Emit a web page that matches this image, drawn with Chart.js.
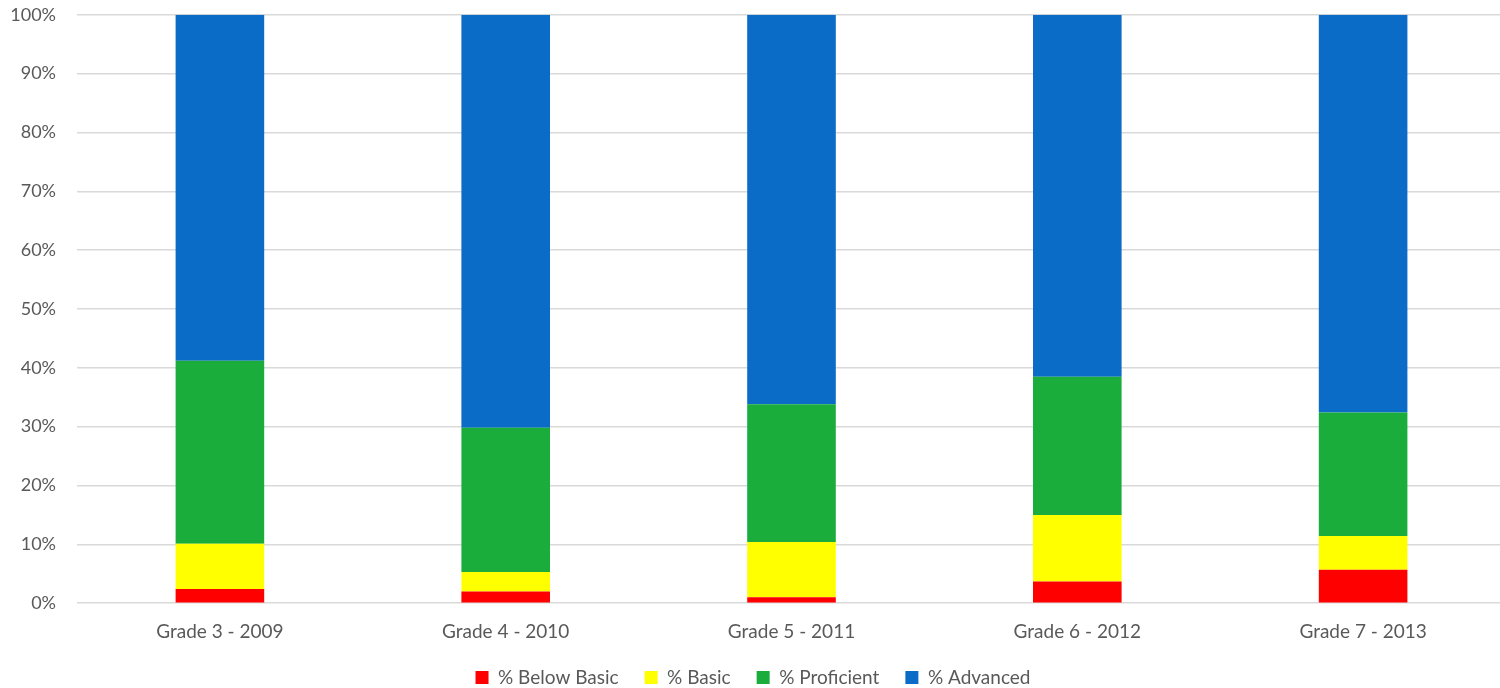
<!DOCTYPE html>
<html>
<head>
<meta charset="utf-8">
<script src="https://cdn.jsdelivr.net/npm/chart.js@4"></script>
<style>
  html, body { margin: 0; padding: 0; background: #fff; overflow: hidden; }
  #wrap { width: 1506px; height: 688px; }
</style>
</head>
<body>
<div id="wrap"><canvas id="myChart"></canvas></div>
<script>
// grades / years along the bottom
var grades = ['Grade 3 - 2009', 'Grade 4 - 2010', 'Grade 5 - 2011', 'Grade 6 - 2012', 'Grade 7 - 2013'];

// percent of students in each band
var belowBasic = [2.4, 2.0, 1.0, 3.7, 5.7];
var basic      = [7.7, 3.3, 9.4, 11.3, 5.7];
var proficient = [31.1, 24.5, 23.4, 23.5, 21.0];
var advanced   = [58.8, 70.2, 66.2, 61.5, 67.6];

var yTicks = [0, 10, 20, 30, 40, 50, 60, 70, 80, 90, 100];

var labelColor = '#595959';
var fontFamily = 'Lato, "Open Sans", sans-serif';

var ctx = document.getElementById('myChart');
var myChart = new Chart(ctx, {
  type: 'bar',
  data: {
    labels: grades,
    datasets: [
      { label: '% Below Basic', data: belowBasic, backgroundColor: '#ff0000' },
      { label: '% Basic', data: basic, backgroundColor: '#ffff00' },
      { label: '% Proficient', data: proficient, backgroundColor: '#1aad3c' },
      { label: '% Advanced', data: advanced, backgroundColor: '#0a6cc6' }
    ]
  },
  options: {
    responsive: true,
    maintainAspectRatio: false,
    animation: false,
    layout: { padding: { top: 0, right: 0, left: 0, bottom: -9 } },
    datasets: {
      bar: { barPercentage: 0.31, categoryPercentage: 1.0, borderWidth: 0 }
    },
    plugins: {
      tooltip: { enabled: false },
      legend: {
        position: 'bottom',
        labels: {
          boxWidth: 13,
          boxHeight: 13,
          padding: 26,
          color: labelColor,
          font: { family: fontFamily, size: 19 }
        }
      }
    },
    scales: {
      x: {
        stacked: true,
        grid: { display: false },
        border: { display: false },
        // pull the legend up a bit closer to the labels
        afterFit: function (axis) { axis.height = axis.height - 10; },
        ticks: { color: labelColor, font: { family: fontFamily, size: 19 }, padding: 9 }
      },
      y: {
        stacked: true,
        min: 0,
        max: 100,
        afterFit: function (axis) { axis.width = 77; },
        afterBuildTicks: function (axis) {
          axis.ticks = yTicks.map(function (v) { return { value: v }; });
        },
        grid: { color: '#d9d9d9', lineWidth: 1.5, tickLength: 17, tickColor: 'rgba(0,0,0,0)' },
        border: { display: false },
        ticks: {
          color: labelColor,
          padding: 4,
          font: { family: fontFamily, size: 18 },
          callback: function (v) { return v + '%'; }
        }
      }
    }
  }
});
</script>
</body>
</html>
